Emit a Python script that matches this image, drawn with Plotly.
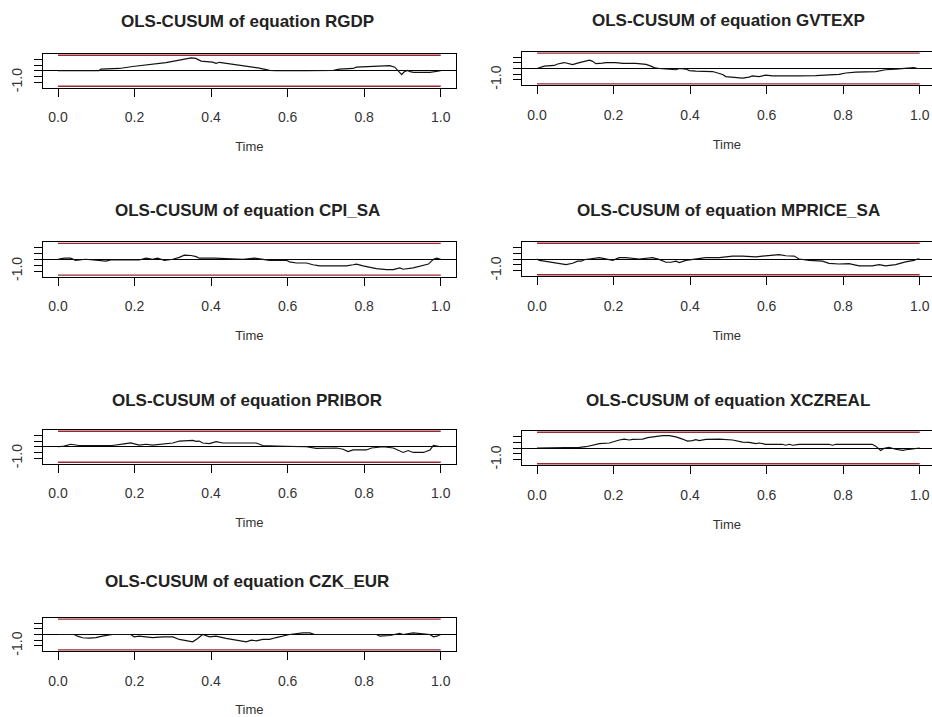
import plotly.graph_objects as go

# ---------------- data ----------------
BOUND = 1.358  # OLS-CUSUM 5% boundary

t_rgdp = [0, 0.107, 0.112, 0.16, 0.195, 0.24, 0.282, 0.317, 0.335, 0.348, 0.36, 0.374, 0.404, 0.413, 0.422,
          0.457, 0.492, 0.526, 0.553, 0.57, 0.65, 0.72, 0.735, 0.771, 0.78, 0.832, 0.867, 0.88, 0.889, 0.898,
          0.904, 0.913, 0.92, 0.929, 0.972, 1.0]
v_rgdp = [0, 0.0, 0.14, 0.2, 0.37, 0.54, 0.71, 0.93, 1.08, 1.13, 1.08, 0.85, 0.76, 0.65, 0.74,
          0.59, 0.42, 0.23, 0.03, 0, 0, 0.03, 0.14, 0.2, 0.31, 0.42, 0.45, 0.31, -0.06, -0.34,
          -0.11, 0.03, -0.08, -0.14, -0.14, 0]

t_gvtexp = [0, 0.006, 0.019, 0.045, 0.054, 0.071, 0.080, 0.093, 0.106, 0.119, 0.137, 0.144, 0.154, 0.171, 0.180,
            0.206, 0.224, 0.258, 0.285, 0.298, 0.306, 0.319, 0.346, 0.363, 0.372, 0.389, 0.398, 0.415, 0.459,
            0.485, 0.493, 0.511, 0.524, 0.537, 0.554, 0.563, 0.580, 0.598, 0.615, 0.641, 0.668, 0.685, 0.728,
            0.772, 0.789, 0.807, 0.833, 0.885, 0.911, 0.937, 0.963, 0.985, 0.994, 1.0]
v_gvtexp = [0, 0.08, 0.21, 0.27, 0.40, 0.53, 0.48, 0.35, 0.48, 0.61, 0.74, 0.66, 0.43, 0.48, 0.53,
            0.53, 0.45, 0.45, 0.37, 0.21, 0.08, 0.0, -0.05, -0.11, 0.0, -0.05, -0.19, -0.24, -0.27,
            -0.53, -0.72, -0.80, -0.80, -0.85, -0.77, -0.66, -0.72, -0.59, -0.66, -0.66, -0.72, -0.66, -0.64,
            -0.59, -0.53, -0.40, -0.32, -0.27, -0.11, -0.05, 0.0, 0.08, 0.0, 0]

t_cpi = [0, 0.016, 0.033, 0.046, 0.072, 0.099, 0.125, 0.138, 0.177, 0.212, 0.230, 0.247, 0.260, 0.278, 0.300,
         0.317, 0.330, 0.348, 0.361, 0.369, 0.409, 0.448, 0.483, 0.514, 0.535, 0.553, 0.597, 0.605, 0.623,
         0.649, 0.666, 0.684, 0.719, 0.754, 0.771, 0.780, 0.797, 0.832, 0.859, 0.876, 0.893, 0.902, 0.928,
         0.955, 0.968, 0.981, 0.990, 1.0]
v_cpi = [0, 0.09, 0.09, -0.09, 0.0, -0.09, -0.16, -0.06, -0.09, -0.06, 0.09, 0.0, 0.09, -0.09, 0.0,
         0.16, 0.35, 0.32, 0.22, 0.09, 0.09, 0.06, 0.0, 0.09, 0.0, -0.09, -0.09, -0.22, -0.32,
         -0.32, -0.47, -0.57, -0.57, -0.57, -0.47, -0.41, -0.57, -0.79, -0.88, -0.88, -0.73, -0.85, -0.73,
         -0.47, -0.41, 0.0, 0.09, 0.0]

t_mprice = [0, 0.006, 0.019, 0.032, 0.054, 0.076, 0.093, 0.106, 0.115, 0.124, 0.137, 0.163, 0.198, 0.215, 0.232,
            0.267, 0.302, 0.319, 0.337, 0.350, 0.363, 0.372, 0.389, 0.415, 0.441, 0.476, 0.511, 0.537, 0.572,
            0.589, 0.633, 0.650, 0.672, 0.685, 0.711, 0.746, 0.763, 0.789, 0.815, 0.842, 0.876, 0.894, 0.911,
            0.937, 0.963, 0.985, 0.994, 1.0]
v_mprice = [0, -0.12, -0.19, -0.25, -0.40, -0.49, -0.37, -0.19, -0.19, -0.06, 0.0, 0.12, -0.12, 0.12, 0.12,
            0.0, 0.12, -0.03, -0.28, -0.28, -0.19, -0.31, -0.12, 0.0, 0.12, 0.12, 0.25, 0.25, 0.19,
            0.25, 0.37, 0.28, 0.25, 0.0, -0.12, -0.19, -0.37, -0.43, -0.40, -0.59, -0.59, -0.49, -0.59,
            -0.49, -0.25, -0.12, 0.0, 0]

t_pribor = [0, 0.016, 0.033, 0.055, 0.107, 0.142, 0.177, 0.190, 0.212, 0.230, 0.247, 0.273, 0.300, 0.317, 0.334,
            0.352, 0.361, 0.369, 0.378, 0.396, 0.413, 0.431, 0.518, 0.535, 0.570, 0.623, 0.649, 0.675, 0.728,
            0.745, 0.758, 0.771, 0.806, 0.819, 0.850, 0.876, 0.893, 0.902, 0.915, 0.928, 0.955, 0.972, 0.981, 1.0]
v_pribor = [0, 0.06, 0.22, 0.11, 0.11, 0.11, 0.28, 0.33, 0.14, 0.22, 0.14, 0.22, 0.33, 0.50, 0.55,
            0.55, 0.47, 0.50, 0.33, 0.28, 0.44, 0.33, 0.33, 0.11, 0.06, 0.06, 0.0, -0.14, -0.11,
            -0.22, -0.42, -0.28, -0.28, -0.11, 0.0, -0.11, -0.33, -0.50, -0.33, -0.50, -0.50, -0.28, 0.11, 0]

t_xczreal = [0, 0.067, 0.076, 0.111, 0.128, 0.145, 0.163, 0.189, 0.198, 0.215, 0.228, 0.241, 0.250, 0.276, 0.289,
             0.311, 0.328, 0.346, 0.363, 0.380, 0.393, 0.406, 0.415, 0.424, 0.441, 0.476, 0.511, 0.537, 0.554,
             0.572, 0.580, 0.598, 0.641, 0.650, 0.659, 0.668, 0.685, 0.763, 0.772, 0.781, 0.876, 0.885, 0.898,
             0.907, 0.920, 0.937, 0.955, 0.972, 1.0]
v_xczreal = [0, 0.05, 0.0, 0.05, 0.11, 0.21, 0.37, 0.43, 0.53, 0.69, 0.77, 0.69, 0.74, 0.77, 0.90,
             1.01, 1.06, 1.06, 0.96, 0.77, 0.59, 0.64, 0.72, 0.64, 0.74, 0.77, 0.69, 0.51, 0.48,
             0.37, 0.43, 0.32, 0.32, 0.24, 0.32, 0.24, 0.32, 0.32, 0.24, 0.32, 0.32, 0.16, -0.21,
             -0.03, 0.05, -0.11, -0.21, -0.11, 0]

t_czk = [0, 0.042, 0.051, 0.064, 0.081, 0.099, 0.116, 0.142, 0.190, 0.199, 0.212, 0.230, 0.247, 0.273, 0.300,
         0.317, 0.334, 0.352, 0.365, 0.378, 0.396, 0.413, 0.439, 0.457, 0.492, 0.505, 0.518, 0.535, 0.553,
         0.570, 0.597, 0.605, 0.640, 0.658, 0.671, 0.832, 0.841, 0.867, 0.893, 0.902, 0.928, 0.946, 0.972,
         0.981, 0.990, 1.0]
v_czk = [0, 0.0, -0.15, -0.29, -0.32, -0.27, -0.15, 0.0, 0.0, -0.21, -0.15, -0.21, -0.27, -0.21, -0.21,
         -0.44, -0.56, -0.65, -0.35, 0.0, -0.21, -0.15, -0.35, -0.44, -0.65, -0.50, -0.56, -0.44, -0.44,
         -0.27, -0.06, 0.0, 0.15, 0.15, 0.0, 0.0, -0.15, -0.09, 0.09, 0.0, 0.15, 0.09, 0.0,
         -0.21, -0.15, 0]

equations = ["RGDP", "GVTEXP", "CPI_SA", "MPRICE_SA", "PRIBOR", "XCZREAL", "CZK_EUR"]
series_t = [t_rgdp, t_gvtexp, t_cpi, t_mprice, t_pribor, t_xczreal, t_czk]
series_v = [v_rgdp, v_gvtexp, v_cpi, v_mprice, v_pribor, v_xczreal, v_czk]

x_ticks = [0.0, 0.2, 0.4, 0.6, 0.8, 1.0]
x_ticktext = ["0.0", "0.2", "0.4", "0.6", "0.8", "1.0"]
y_ticks = [-1.0, -0.5, 0.0, 0.5, 1.0]
y_ticktext = ["-1.0", "", "", "", ""]

# ---------------- layout geometry (pixels) ----------------
W, H = 932, 717
# (left, right, top, bottom, title_y, title_x)
boxes = [
    (42.7, 456.0, 54.0, 87.5, 21.5, 247),
    (521.7, 932.0, 52.0, 85.0, 20.5, 728),
    (42.7, 456.0, 242.0, 276.5, 210.0, 247),
    (521.7, 932.0, 242.0, 276.0, 210.0, 728),
    (42.7, 456.0, 430.0, 463.5, 400.0, 247),
    (521.7, 932.0, 431.0, 465.0, 400.0, 728),
    (42.7, 456.0, 618.0, 651.0, 581.0, 247),
]
PX_PER_UNIT = 382.7
YR = BOUND * 1.08

BORDER = "#000000"
RED = "#9a2832"
FONT = "Liberation Sans, Arial, sans-serif"

fig = go.Figure()
layout = dict(
    width=W, height=H, margin=dict(l=0, r=0, t=0, b=0),
    paper_bgcolor="white", plot_bgcolor="white", showlegend=False,
    font=dict(family=FONT, color="#333333", size=14),
    annotations=[], shapes=[],
)

for i, (name, tt, vv, box) in enumerate(zip(equations, series_t, series_v, boxes)):
    l, r, top, bot, ty, tx = box
    k = "" if i == 0 else str(i + 1)
    xa, ya = "x" + k, "y" + k
    x0 = -0.04
    x1 = x0 + (r - l) / PX_PER_UNIT
    # boundaries
    fig.add_trace(go.Scatter(x=[0, 1], y=[BOUND, BOUND], mode="lines",
                             line=dict(color=RED, width=1.3), xaxis=xa, yaxis=ya, hoverinfo="skip"))
    fig.add_trace(go.Scatter(x=[0, 1], y=[-BOUND, -BOUND], mode="lines",
                             line=dict(color=RED, width=1.3), xaxis=xa, yaxis=ya, hoverinfo="skip"))
    # process
    fig.add_trace(go.Scatter(x=tt, y=vv, mode="lines",
                             line=dict(color="#111111", width=1.2), xaxis=xa, yaxis=ya))
    layout["xaxis" + k] = dict(
        domain=[l / W, r / W], range=[x0, x1], anchor=ya,
        tickmode="array", tickvals=x_ticks, ticktext=x_ticktext,
        ticks="outside", ticklen=8, tickwidth=1, tickcolor=BORDER,
        showline=True, linecolor=BORDER, linewidth=1.2, mirror=True,
        showgrid=False, zeroline=False, automargin=False,
        tickfont=dict(size=14, color="#333333"), ticklabelstandoff=9,
        title=dict(text="Time", font=dict(size=13, color="#333333"), standoff=17),
    )
    layout["yaxis" + k] = dict(
        domain=[1 - bot / H, 1 - top / H], range=[-YR, YR], anchor=xa,
        tickmode="array", tickvals=y_ticks, ticktext=y_ticktext, tickangle=-90,
        ticks="outside", ticklen=8, tickwidth=1, tickcolor=BORDER,
        showline=True, linecolor=BORDER, linewidth=1.2, mirror=True,
        showgrid=False, zeroline=True, zerolinecolor="#000000", zerolinewidth=1,
        automargin=False, tickfont=dict(size=14, color="#333333"), ticklabelstandoff=6,
    )
    layout["annotations"].append(dict(
        text="<b>OLS-CUSUM of equation %s</b>" % name, xref="paper", yref="paper",
        x=tx / W, y=1 - ty / H, xanchor="center", yanchor="middle", showarrow=False,
        font=dict(size=17, color="#222222", family=FONT),
    ))

fig.update_layout(**layout)
fig.write_html("out.html")
